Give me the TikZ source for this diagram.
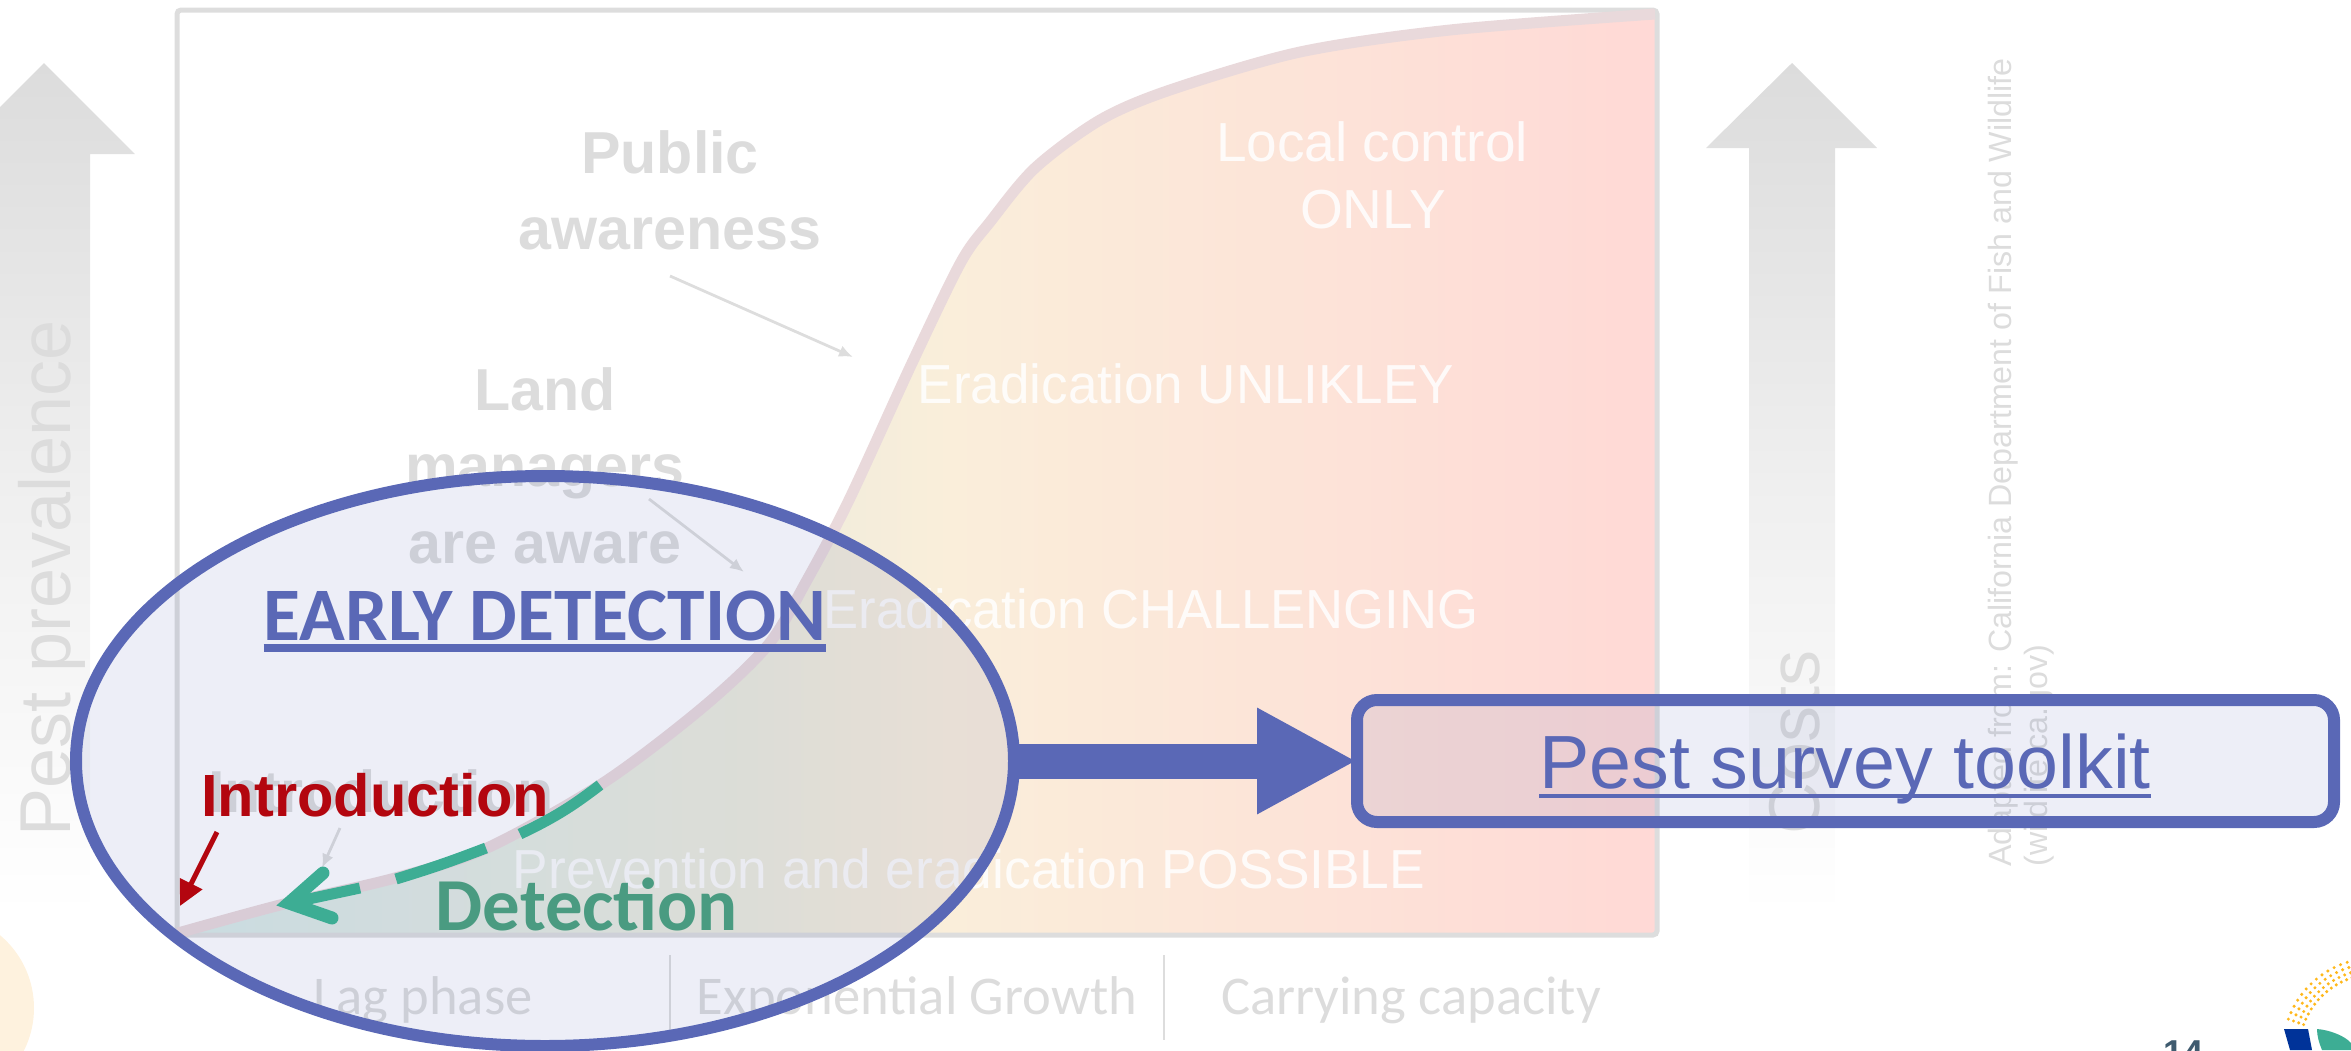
\documentclass[tikz,border=0pt]{standalone}
\usepackage{fontspec}
\setmainfont{Liberation Sans}
\newfontfamily\carlito{Carlito}
\usetikzlibrary{arrows.meta,shapes.geometric}
\definecolor{gtxt}{HTML}{DCDCDC}
\definecolor{frameg}{HTML}{DDDDDD}
\definecolor{curvec}{HTML}{E9D9DB}
\definecolor{blu}{HTML}{5A68B6}
\definecolor{redc}{HTML}{B3060F}
\definecolor{grn}{HTML}{3DAD94}
\definecolor{grnt}{HTML}{4A9B81}
\definecolor{yel}{HTML}{FEF2DE}
\definecolor{orng}{HTML}{FFB81C}
\definecolor{navy}{HTML}{003399}
\definecolor{slate}{HTML}{3F5B6F}
\definecolor{fillA}{HTML}{D8EBE7}
\definecolor{fillB}{HTML}{EDECDC}
\definecolor{fillC}{HTML}{FAEEDA}
\definecolor{fillD}{HTML}{FFD9D6}
\newcommand\fs[1]{\fontsize{#1}{#1}\selectfont}
\newcommand\ulx[3]{\leavevmode\setbox0\hbox{#1}\rlap{\rule[-#2]{\wd0}{#3}}\box0}
\tikzset{
  txt/.style={inner sep=0pt,anchor=base},
  graytxt/.style={txt,text=gtxt},
  whitetxt/.style={txt,text=white,text opacity=0.85,font=\fs{27.5}},
  boldg/.style={graytxt,font=\fs{29.6}\bfseries},
  axistxt/.style={graytxt,font=\carlito\fs{27.3}},
  sidetxt/.style={inner sep=0pt,anchor=base west,rotate=90,text=gtxt},
  thinarrow/.style={draw=frameg,line width=1.4pt,-{Latex[length=7pt,width=6pt]}},
  greenseg/.style={draw=grn,line width=5.5pt},
  tint/.style={draw=blu,line width=6pt,fill=blu,fill opacity=0.11,draw opacity=1,inner sep=0pt},
}
\begin{document}
\begin{tikzpicture}[x=0.5pt,y=-0.5pt]
\useasboundingbox (0,0) rectangle (2351,1050);
\def\curvepts{(178,933)(280,905)(395,878)(487,848)(603,783)(702,708)(768,645)(807,580)(849,500)(912,363)(961,262)(990,222)(1035,168)(1100,120)(1170,90)(1300,52)(1450,30)(1655,14)}
% decorative circle
\fill[yel] (-61,1008) circle[radius=47.5pt];
% side arrows
\shade[top color=gtxt,bottom color=white,middle color=gtxt!45]
  (44,63) -- (135,154) -- (90,154) -- (90,915) -- (-2,915) -- (-2,154) -- (-47,154) -- cycle;
\shade[top color=gtxt,bottom color=white,middle color=gtxt!45]
  (1792,63) -- (1877,148) -- (1835,148) -- (1835,915) -- (1749,915) -- (1749,148) -- (1706,148) -- cycle;
% area under curve
\begin{scope}
  \clip plot[smooth,tension=0.5] coordinates {\curvepts} -- (1655,935) -- (178,935) -- cycle;
  \shade[left color=fillA,right color=fillB] (177,0) rectangle (750,935);
  \shade[left color=fillB,right color=fillC] (750,0) rectangle (950,935);
  \shade[left color=fillC,right color=fillD] (950,0) rectangle (1656,935);
\end{scope}
\draw[frameg,line width=2.5pt,rounded corners=2pt] (177,10) rectangle (1657,935);
\draw[curvec,line width=5.5pt] plot[smooth,tension=0.5] coordinates {\curvepts};
% region labels
\node[whitetxt] (local) at (1372,161) {Local control};
\node[whitetxt] (only) at (1373,228) {ONLY};
\node[whitetxt] (unlikely) at (1186,403) {\scalebox{.964}[1]{Eradication UNLIKLEY}};
\node[whitetxt] (chall) at (1151,628) {\scalebox{.957}[1]{Eradication CHALLENGING}};
\node[whitetxt] (possible) at (969,888) {\scalebox{.969}[1]{Prevention and eradication POSSIBLE}};
% grey labels
\node[boldg] (public) at (670,173) {Public};
\node[boldg] (aware) at (670,249) {awareness};
\node[boldg] (land) at (545,410) {Land};
\node[boldg] (managers) at (545,486) {managers};
\node[boldg] (areaware) at (545,563) {are aware};
\node[boldg] (introg) at (381,812) {Introduction};
\coordinate (a1s) at (670,276); \coordinate (a1e) at (853,357);
\coordinate (a2s) at (649,499); \coordinate (a2e) at (744,572);
\coordinate (a3s) at (340,828); \coordinate (a3e) at (322,868);
\draw[thinarrow] (a1s) -- (a1e);
\draw[thinarrow] (a2s) -- (a2e);
\draw[thinarrow] (a3s) -- (a3e);
\node[axistxt] (lag) at (423,1014) {Lag phase};
\node[axistxt] (expo) at (917,1014) {Exponential Growth};
\node[axistxt] (carry) at (1411,1014) {Carrying capacity};
\coordinate (s1a) at (670,955); \coordinate (s1b) at (670,1040);
\coordinate (s2a) at (1164,955); \coordinate (s2b) at (1164,1040);
\draw[frameg,line width=1pt] (s1a) -- (s1b);
\draw[frameg,line width=1pt] (s2a) -- (s2b);
\node[sidetxt,font=\fs{36}] (prev) at (70,837) {Pest prevalence};
\node[sidetxt,font=\fs{36}] (costs) at (1819,835) {Costs};
\node[sidetxt,font=\fs{16.1}] (adapt1) at (2011,867) {Adapted from: California Department of Fish and Wildlife};
\node[sidetxt,font=\fs{16.1}] (adapt2) at (2047,867) {(wildlife.ca.gov)};
% overlay ellipse and toolkit box
\node[tint,ellipse,minimum width=469pt,minimum height=285pt] (ell) at (545,761) {};
\node[tint,rounded corners=10pt,minimum width=488.5pt,minimum height=61pt] (box) at (1845.5,761) {};
\node[txt,text=blu,font=\fs{37.7}] (toolkit) at (1845,788) {\ulx{Pest survey toolkit}{5pt}{2pt}};
\draw[blu,line width=17.5pt,-{Triangle[length=50pt,width=49.5pt]},shorten <=-3pt,shorten >=-3pt] (ell.east) -- (box.west);
\node[txt,text=blu,font=\carlito\fs{37.8}\bfseries] (early) at (545,640) {\ulx{EARLY DETECTION}{6pt}{4pt}};
\node[txt,text=redc,font=\fs{29.8}\bfseries] (intro) at (375,816) {Introduction};
\node[txt,text=grnt,font=\carlito\fs{37.4}\bfseries] (detect) at (587,930) {Detection};
% red arrow
\coordinate (r1) at (217,832); \coordinate (r2) at (180,906);
\draw[redc,line width=2.5pt,-{Triangle[length=12.5pt,width=12pt]}] (r1) -- (r2);
% green dashed arrow
\coordinate (g1) at (600,785); \coordinate (g2) at (520,834);
\coordinate (g3) at (486,848); \coordinate (g4) at (396,879);
\coordinate (g5) at (360,888); \coordinate (g6) at (290,903);
\coordinate (tip) at (289,903); \coordinate (arm1) at (323,873); \coordinate (arm2) at (332,918);
\draw[greenseg] (g1) to[bend left=6] (g2);
\draw[greenseg] (g3) to[bend left=2] (g4);
\draw[greenseg] (g5) -- (g6);
\draw[greenseg,line width=6.5pt,line cap=round,miter limit=10] (arm1) -- (tip) -- (arm2);
% page number and logo
\node[inner sep=0pt,anchor=north,text=slate,font=\fs{18}\bfseries] (page) at (2183,1040) {14};
\foreach \a in {90,94.4,...,162}{
  \foreach \r in {92,86.5,81,75.8}{
    \fill[orng] ({2375+\r*cos(\a)},{1050-\r*sin(\a)}) circle[radius=0.85pt];
  }
}
\fill[navy] (2284,1029) -- (2308,1029) -- (2312,1050) -- (2290,1050) -- cycle;
\fill[grn] (2317,1029) .. controls (2330,1030) and (2345,1036) .. (2351,1043) -- (2351,1050) -- (2322,1050) .. controls (2319,1043) and (2317,1036) .. (2317,1029) -- cycle;
\end{tikzpicture}
\end{document}
